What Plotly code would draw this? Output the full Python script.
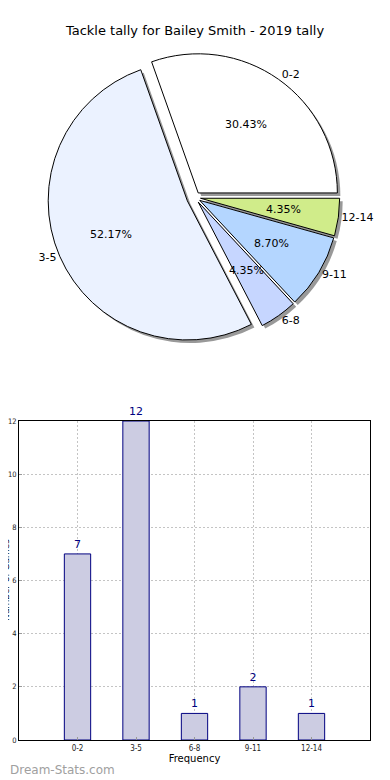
import math
import plotly.graph_objects as go

categories = ["0-2", "3-5", "6-8", "9-11", "12-14"]
counts = [7, 12, 1, 2, 1]
pie_colors = ["#ffffff", "#ebf2ff", "#c6d6ff", "#b4d6ff", "#d0ec8a"]
pulls = [0.04, 0.06, 0.04, 0.04, 0.04]
yticks = [0, 2, 4, 6, 8, 10, 12]

# pie drawn clockwise from 3 o'clock in reversed order (= counter-clockwise from 0 deg)
p_labels = categories[::-1]
p_values = counts[::-1]
p_colors = pie_colors[::-1]
p_pulls = pulls[::-1]

OFF = 8.0            # page body margin
FW, FH = 382, 772    # figure size so that it fills the 390x780 window
ML, MR = 19 - OFF, 20
W_PLOT = FW - ML - MR

def py(screen_px):
    return 1 - (screen_px - OFF) / FH

def px_plot(screen_px):
    return (screen_px - OFF - ML) / W_PLOT

sh = 3.0
PIE_X0, PIE_X1, PIE_Y0, PIE_Y1 = 30, 360, 50, 345   # screen px box of the pie domain
pie_dom_x = [px_plot(PIE_X0), px_plot(PIE_X1)]
pie_dom_y = [py(PIE_Y1), py(PIE_Y0)]

fig = go.Figure()
common = dict(labels=p_labels, values=p_values, sort=False, direction="clockwise",
              rotation=90, pull=p_pulls, showlegend=False, scalegroup="g", automargin=False)
# shadow
fig.add_trace(go.Pie(
    **common, marker=dict(colors=["#999999"] * 5, line=dict(width=0)),
    textinfo="none", hoverinfo="skip",
    domain=dict(x=[pie_dom_x[0] + sh / W_PLOT, pie_dom_x[1] + sh / W_PLOT],
                y=[pie_dom_y[0] - sh / FH, pie_dom_y[1] - sh / FH]),
))
# main
fig.add_trace(go.Pie(
    **common, marker=dict(colors=p_colors, line=dict(color="#000000", width=1)),
    textinfo="none",
    domain=dict(x=pie_dom_x, y=pie_dom_y),
))
# outside labels
fig.add_trace(go.Pie(
    **common, marker=dict(colors=["rgba(0,0,0,0)"] * 5, line=dict(width=0)),
    texttemplate="%{label}", textposition="outside",
    textfont=dict(family="DejaVu Sans", size=11, color="#000000"),
    hoverinfo="skip", domain=dict(x=pie_dom_x, y=pie_dom_y),
))

# percentage labels at 0.6 of the radius (matplotlib pctdistance), derived from the data
total = sum(counts)
cx = (PIE_X0 + PIE_X1) / 2
cy = (PIE_Y0 + PIE_Y1) / 2
R = min(PIE_X1 - PIE_X0, PIE_Y1 - PIE_Y0) / 2 / (1 + max(pulls))
annotations = []
cum = 0
for cat, v, pl in zip(categories, counts, pulls):
    mid = 2 * math.pi * (cum + v / 2) / total
    cum += v
    d = (0.6 + pl) * R
    sx = cx + d * math.cos(mid)
    sy = cy - d * math.sin(mid)
    annotations.append(dict(text=f"{100 * v / total:.2f}%", xref="paper", yref="paper",
                            x=px_plot(sx), y=py(sy), xanchor="center", yanchor="middle",
                            showarrow=False,
                            font=dict(family="DejaVu Sans", size=11, color="#000000")))

fig.add_trace(go.Bar(
    x=categories, y=counts, width=0.45,
    marker=dict(color="#cccce2", line=dict(color="#000080", width=1)),
    text=counts, textposition="outside", cliponaxis=False,
    textfont=dict(family="DejaVu Sans", size=11, color="#000080"),
    showlegend=False, xaxis="x", yaxis="y",
))

grid = dict(showgrid=True, gridcolor="#c4c4c4", griddash="2px,2px", gridwidth=1,
            showline=True, linecolor="#000000", linewidth=1, mirror=True,
            ticks="inside", ticklen=3, tickcolor="#999999",
            zeroline=False, automargin=False)

annotations.append(dict(text="Dream-Stats.com", xref="paper", yref="paper",
                        x=px_plot(8), y=py(770), xanchor="left", yanchor="middle", showarrow=False,
                        font=dict(size=12, color="#a0a0a0", family="DejaVu Sans")))
annotations.append(dict(text="Number of Games", xref="paper", yref="paper", textangle=-90,
                        x=px_plot(6), y=py(580), xanchor="center", yanchor="middle", showarrow=False,
                        font=dict(size=9, color="#000000", family="DejaVu Sans")))

fig.update_layout(
    width=FW, height=FH,
    margin=dict(l=ML, r=MR, t=0, b=0, autoexpand=False),
    paper_bgcolor="#ffffff", plot_bgcolor="#ffffff",
    font=dict(family="DejaVu Sans", color="#000000"),
    title=dict(text="Tackle tally for Bailey Smith - 2019 tally", x=(195 - OFF) / FW, xanchor="center",
               y=py(30), yanchor="middle", font=dict(size=13, color="#000000")),
    xaxis=dict(domain=[0, 1], range=[-1, 5], type="category", anchor="y",
               tickfont=dict(size=8, family="DejaVu Sans Condensed, Liberation Sans Narrow, DejaVu Sans",
                             color="#222222"),
               title=dict(text="Frequency", font=dict(size=10), standoff=2), **grid),
    yaxis=dict(domain=[py(740), py(421)], range=[0, 12], tickvals=yticks, anchor="x",
               tickfont=dict(size=7.5, family="DejaVu Sans Condensed, Liberation Sans Narrow, DejaVu Sans",
                             color="#222222"),
               **grid),
    annotations=annotations,
)

fig.write_html("out.html")
